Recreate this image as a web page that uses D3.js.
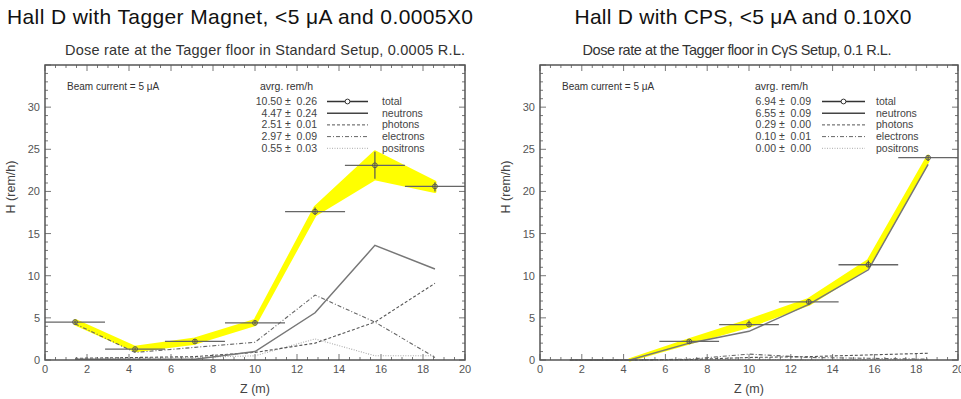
<!DOCTYPE html>
<html>
<head>
<meta charset="utf-8">
<script src="https://cdn.jsdelivr.net/npm/d3@7"></script>
<style>
  body { margin: 0; background: #fff; }
  svg { display: block; font-family: "Liberation Sans", Arial, sans-serif; }
  text { white-space: pre; }
</style>
</head>
<body>
<svg id="chart" width="961" height="399"></svg>
<script>
// bin centres along Z (m), 7 bins across 0..20
const zCenters = [1.43, 4.29, 7.14, 10, 12.86, 15.71, 18.57];
const binHalf = 10 / 7;
const seriesNames = ['total', 'neutrons', 'photons', 'electrons', 'positrons'];

// left: standard setup, 0.0005 R.L.
const stdTotal = [4.5, 1.3, 2.2, 4.4, 17.6, 23.1, 20.6];
const stdLow   = [4.3, 1.1, 2.0, 4.2, 17.2, 21.5, 20.0];
const stdHigh  = [4.7, 1.5, 2.5, 4.7, 18.1, 24.7, 21.1];
const stdNeutrons  = [0.1, 0.1, 0.1, 1.0, 5.6, 13.6, 10.8];
const stdPhotons   = [0.2, 0.3, 0.4, 0.9, 2.0, 4.5, 9.1];
const stdElectrons = [4.3, 0.9, 1.5, 2.1, 7.7, 4.5, 0.3];
const stdPositrons = [0.1, 0.2, 0.3, 0.5, 2.5, 0.5, 0.5];
const stdAvg = ['10.50', '4.47', '2.51', '2.97', '0.55'];
const stdErr = ['0.26', '0.24', '0.01', '0.09', '0.03'];

// right: CPS setup, 0.1 R.L.
const cpsTotal = [0, 0, 2.2, 4.2, 6.9, 11.3, 24.0];
const cpsLow   = [0, 0, 2.0, 4.0, 6.6, 11.0, 23.6];
const cpsHigh  = [0, 0.05, 2.4, 4.7, 7.2, 11.8, 24.2];
const cpsNeutrons  = [0, 0, 2.0, 3.4, 6.6, 10.7, 23.2];
const cpsPhotons   = [0, 0, 0.05, 0.3, 0.4, 0.6, 0.8];
const cpsElectrons = [0, 0, 0.1, 0.7, 0.3, 0.2, 0.1];
const cpsPositrons = [0, 0, 0, 0.1, 0, 0, 0];
const cpsAvg = ['6.94', '6.55', '0.29', '0.10', '0.00'];
const cpsErr = ['0.09', '0.09', '0.00', '0.01', '0.00'];

const svg = d3.select('#chart');

const lineStyles = {
  neutrons:  { stroke: '#777', width: 1.5, dash: null },
  photons:   { stroke: '#555', width: 1.1, dash: '3,2' },
  electrons: { stroke: '#666', width: 1.1, dash: '4,2,1,2' },
  positrons: { stroke: '#aaa', width: 1.1, dash: '1,1.5' }
};

function drawPanel(p) {
  const x = d3.scaleLinear().domain([0, 20]).range([p.left, p.right]);
  const y = d3.scaleLinear().domain([0, 35]).range([360, 65]);
  const g = svg.append('g');

  // titles
  g.append('text').attr('x', p.titleX).attr('y', 24)
    .attr('text-anchor', 'middle').attr('font-size', 21).attr('fill', '#111')
    .attr('textLength', p.titleW).attr('lengthAdjust', 'spacing')
    .text(p.title);
  g.append('text').attr('x', p.subX).attr('y', 55)
    .attr('text-anchor', 'middle').attr('font-size', 14.5).attr('fill', '#333')
    .attr('textLength', p.subW).attr('lengthAdjust', 'spacing')
    .text(p.subtitle);

  // ticks inside the frame on all sides
  const tickColor = '#777';
  const xMinor = d3.range(0, 20.01, 0.5);
  const yMinor = d3.range(0, 35.01, 1);
  xMinor.forEach(v => {
    const len = v % 2 === 0 ? 6 : 3;
    g.append('line').attr('x1', x(v)).attr('x2', x(v)).attr('y1', 360).attr('y2', 360 - len)
      .attr('stroke', tickColor);
    g.append('line').attr('x1', x(v)).attr('x2', x(v)).attr('y1', 65).attr('y2', 65 + len)
      .attr('stroke', tickColor);
  });
  yMinor.forEach(v => {
    const len = v % 5 === 0 ? 6 : 3;
    g.append('line').attr('x1', p.left).attr('x2', p.left + len).attr('y1', y(v)).attr('y2', y(v))
      .attr('stroke', tickColor);
    g.append('line').attr('x1', p.right).attr('x2', p.right - len).attr('y1', y(v)).attr('y2', y(v))
      .attr('stroke', tickColor);
  });

  // tick labels
  d3.range(0, 21, 2).forEach(v => {
    g.append('text').attr('x', x(v)).attr('y', 373).attr('text-anchor', 'middle')
      .attr('font-size', 11).attr('fill', '#555').text(v);
  });
  d3.range(0, 31, 5).forEach(v => {
    g.append('text').attr('x', p.left - 5).attr('y', y(v) + 4).attr('text-anchor', 'end')
      .attr('font-size', 11).attr('fill', '#555').text(v);
  });

  // axis titles
  g.append('text').attr('x', (p.left + p.right) / 2).attr('y', 393).attr('text-anchor', 'middle')
    .attr('font-size', 12.5).attr('fill', '#444').text('Z (m)');
  g.append('text').attr('transform', `translate(${p.left - 30},187) rotate(-90)`)
    .attr('text-anchor', 'middle').attr('font-size', 12.5).attr('fill', '#444').text('H (rem/h)');

  // yellow error band of the total
  const band = zCenters.map((z, i) => ({ z, lo: p.low[i], hi: p.high[i] }))
    .filter(d => d.hi > 0);
  g.append('path').datum(band)
    .attr('d', d3.area().x(d => x(d.z)).y0(d => y(d.lo)).y1(d => y(d.hi)))
    .attr('fill', '#ffff00').attr('stroke', '#ffff00').attr('stroke-width', 3)
    .attr('stroke-linejoin', 'round');

  // components
  const line = d3.line().x((d, i) => x(zCenters[i])).y(d => y(d));
  ['positrons', 'electrons', 'photons', 'neutrons'].forEach(name => {
    const s = lineStyles[name];
    g.append('path').datum(p[name]).attr('d', line)
      .attr('fill', 'none').attr('stroke', s.stroke).attr('stroke-width', s.width)
      .attr('stroke-dasharray', s.dash);
  });

  // total points with error bars
  zCenters.forEach((z, i) => {
    if (p.total[i] <= 0) return;
    g.append('line').attr('x1', x(z - binHalf)).attr('x2', x(z + binHalf))
      .attr('y1', y(p.total[i])).attr('y2', y(p.total[i]))
      .attr('stroke', '#666').attr('stroke-width', 1.3);
    g.append('line').attr('x1', x(z)).attr('x2', x(z))
      .attr('y1', y(p.low[i])).attr('y2', y(p.high[i]))
      .attr('stroke', '#555').attr('stroke-width', 1.2);
    g.append('circle').attr('cx', x(z)).attr('cy', y(p.total[i])).attr('r', 2.4)
      .attr('fill', 'none').attr('stroke', '#555').attr('stroke-width', 1);
  });

  // frame
  g.append('rect').attr('x', p.left).attr('y', 65)
    .attr('width', p.right - p.left).attr('height', 295)
    .attr('fill', 'none').attr('stroke', '#555').attr('stroke-width', 1.5);

  // annotations and legend
  g.append('text').attr('x', p.left + 22).attr('y', 90).attr('font-size', 10)
    .attr('fill', '#333').text('Beam current = 5 \u03bcA');
  g.append('text').attr('x', p.legX).attr('y', 90).attr('font-size', 10.5)
    .attr('fill', '#333').text('avrg. rem/h');
  seriesNames.forEach((name, i) => {
    const ry = 105 + i * 11.7;
    g.append('text').attr('x', p.legValX).attr('y', ry).attr('text-anchor', 'end')
      .attr('font-size', 10.5).attr('fill', '#444')
      .text(`${p.avg[i]} \u00b1  ${p.err[i]}`);
    const sy = ry - 3.5;
    if (name === 'total') {
      g.append('line').attr('x1', p.legLine0).attr('x2', p.legLine1).attr('y1', sy).attr('y2', sy)
        .attr('stroke', '#333').attr('stroke-width', 1.3);
      g.append('circle').attr('cx', (p.legLine0 + p.legLine1) / 2).attr('cy', sy).attr('r', 2.4)
        .attr('fill', '#fff').attr('stroke', '#333');
    } else {
      const s = lineStyles[name];
      g.append('line').attr('x1', p.legLine0).attr('x2', p.legLine1).attr('y1', sy).attr('y2', sy)
        .attr('stroke', name === 'neutrons' ? '#444' : s.stroke)
        .attr('stroke-width', name === 'neutrons' ? 1.5 : 1).attr('stroke-dasharray', s.dash);
    }
    g.append('text').attr('x', p.legLabX).attr('y', ry).attr('font-size', 10.5)
      .attr('fill', '#444').text(name);
  });
}

drawPanel({
  left: 45, right: 465, titleX: 240, titleW: 466, subX: 265, subW: 400,
  title: 'Hall D with Tagger Magnet, <5 \u03bcA and 0.0005X0',
  subtitle: 'Dose rate at the Tagger floor in Standard Setup, 0.0005 R.L.',
  total: stdTotal, low: stdLow, high: stdHigh,
  neutrons: stdNeutrons, photons: stdPhotons, electrons: stdElectrons, positrons: stdPositrons,
  avg: stdAvg, err: stdErr,
  legX: 260, legValX: 317, legLine0: 327, legLine1: 368, legLabX: 382
});

drawPanel({
  left: 540, right: 958, titleX: 743, titleW: 337, subX: 737, subW: 309,
  title: 'Hall D with CPS, <5 \u03bcA and 0.10X0',
  subtitle: 'Dose rate at the Tagger floor in C\u03b3S Setup, 0.1 R.L.',
  total: cpsTotal, low: cpsLow, high: cpsHigh,
  neutrons: cpsNeutrons, photons: cpsPhotons, electrons: cpsElectrons, positrons: cpsPositrons,
  avg: cpsAvg, err: cpsErr,
  legX: 755, legValX: 811, legLine0: 822, legLine1: 865, legLabX: 876
});
</script>
</body>
</html>
